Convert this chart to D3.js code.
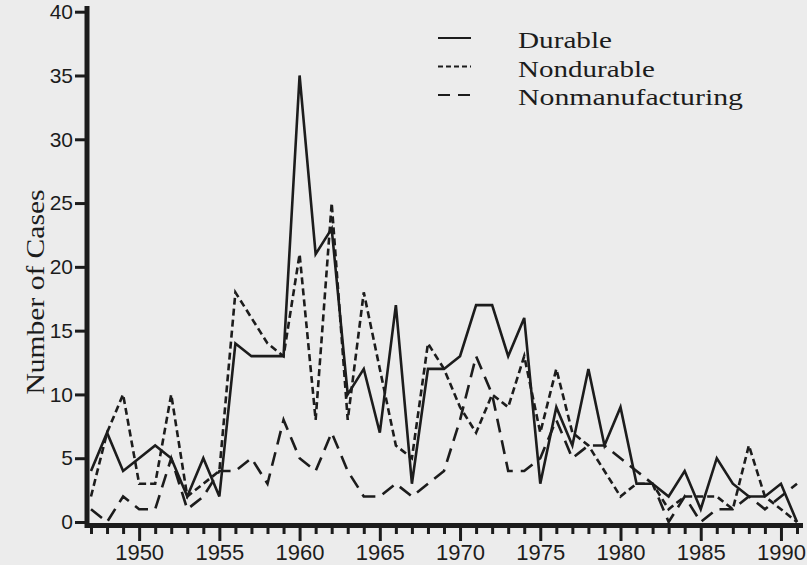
<!DOCTYPE html>
<html>
<head>
<meta charset="utf-8">
<script src="https://cdn.jsdelivr.net/npm/d3@7"></script>
<style>
  body { margin: 0; background: #ececec; }
  svg { display: block; }
</style>
</head>
<body>
<script>
// years on the x axis
let years = [1947,1948,1949,1950,1951,1952,1953,1954,1955,1956,
             1957,1958,1959,1960,1961,1962,1963,1964,1965,1966,
             1967,1968,1969,1970,1971,1972,1973,1974,1975,1976,
             1977,1978,1979,1980,1981,1982,1983,1984,1985,1986,
             1987,1988,1989,1990,1991];

// number of cases by sector
let durable = [4,7,4,5,6,5,2,5,2,14,
               13,13,13,35,21,23,10,12,7,17,
               3,12,12,13,17,17,13,16,3,9,
               6,12,6,9,3,3,2,4,1,5,
               3,2,2,3,0];

let nondurable = [2,7,10,3,3,10,2,3,4,18,
                  16,14,13,21,8,25,8,18,12,6,
                  5,14,12,9,7,10,9,13,7,12,
                  7,6,4,2,3,3,1,2,2,2,
                  1,6,2,1,0];

let nonmanufacturing = [1,0,2,1,1,5,1,2,4,4,
                        5,3,8,5,4,7,4,2,2,3,
                        2,3,4,8,13,10,4,4,5,8,
                        5,6,6,5,4,3,0,2,0,1,
                        1,2,1,2,3];

let yTicks = [0,5,10,15,20,25,30,35,40];
let xLabels = [1950,1955,1960,1965,1970,1975,1980,1985,1990];

let seriesNames = ['Durable','Nondurable','Nonmanufacturing'];
let seriesDash = ['none','7,4','14,8'];
let legendDash = ['none','5,3','12,8'];
let legendWidths = [94, 137, 225];   // the legend text in the picture is a bit stretched

const width = 807, height = 565;
const ink = '#1c1c1c';
const serif = '"Liberation Serif", "Times New Roman", serif';
const sans = '"Liberation Sans", Arial, sans-serif';

let svg = d3.select('body').append('svg')
  .attr('width', width)
  .attr('height', height);

let x = d3.scaleLinear()
  .domain([1947, 1991])
  .range([91, 797]);

let y = d3.scaleLinear()
  .domain([0, 40])
  .range([522, 11.7]);

// y axis ticks + labels
let yAxis = d3.axisLeft(y)
  .tickValues(yTicks)
  .tickSize(12)
  .tickPadding(2)
  .tickSizeOuter(0);

let gy = svg.append('g')
  .attr('transform', 'translate(87,0)')
  .call(yAxis);

gy.select('.domain').remove();
gy.selectAll('.tick line').attr('stroke', ink).attr('stroke-width', 3);
gy.selectAll('.tick text')
  .attr('fill', ink)
  .style('font-family', sans)
  .style('font-size', '21px');

// x axis: a tick every year, longer ones every 5 years
let xAxis = d3.axisBottom(x)
  .tickValues(years)
  .tickSize(7)
  .tickSizeOuter(0)
  .tickFormat(d => xLabels.includes(d) ? d : '');

let gx = svg.append('g')
  .attr('transform', 'translate(0,527)')
  .call(xAxis);

gx.select('.domain').remove();
gx.selectAll('.tick line')
  .attr('stroke', ink)
  .attr('stroke-width', 3)
  .attr('y2', d => d % 5 === 0 ? 14 : 7);
gx.selectAll('.tick text')
  .attr('fill', ink)
  .attr('y', 17)
  .style('font-family', sans)
  .style('font-size', '22px');

// heavy axis lines
svg.append('line')
  .attr('x1', 87).attr('x2', 87)
  .attr('y1', 6).attr('y2', 528)
  .attr('stroke', ink).attr('stroke-width', 5);

svg.append('line')
  .attr('x1', 85).attr('x2', 803)
  .attr('y1', 525.5).attr('y2', 525.5)
  .attr('stroke', ink).attr('stroke-width', 5);

// axis title
svg.append('text')
  .attr('transform', 'translate(43.5,292) rotate(-90)')
  .attr('text-anchor', 'middle')
  .attr('fill', ink)
  .attr('textLength', 205)
  .attr('lengthAdjust', 'spacingAndGlyphs')
  .style('font-family', serif)
  .style('font-size', '26px')
  .text('Number of Cases');

// series lines
let line = d3.line()
  .x((d, i) => x(years[i]))
  .y(d => y(d));

let allSeries = [durable, nondurable, nonmanufacturing];

svg.append('g')
  .selectAll('path')
  .data(allSeries)
  .join('path')
    .attr('d', d => line(d))
    .attr('fill', 'none')
    .attr('stroke', ink)
    .attr('stroke-width', 2.6)
    .attr('stroke-linejoin', 'miter')
    .attr('stroke-dasharray', (d, i) => seriesDash[i]);

// legend
let legendRow = svg.append('g')
  .selectAll('g')
  .data(seriesNames)
  .join('g')
    .attr('transform', (d, i) => 'translate(0,' + (38 + i * 28.5) + ')');

legendRow.append('line')
  .attr('x1', 438).attr('x2', 471)
  .attr('y1', 0).attr('y2', 0)
  .attr('stroke', ink)
  .attr('stroke-width', 2)
  .attr('stroke-dasharray', (d, i) => legendDash[i]);

legendRow.append('text')
  .attr('x', 518)
  .attr('y', 10)
  .attr('fill', ink)
  .attr('textLength', (d, i) => legendWidths[i])
  .attr('lengthAdjust', 'spacingAndGlyphs')
  .style('font-family', serif)
  .style('font-size', '24px')
  .text(d => d);
</script>
</body>
</html>
